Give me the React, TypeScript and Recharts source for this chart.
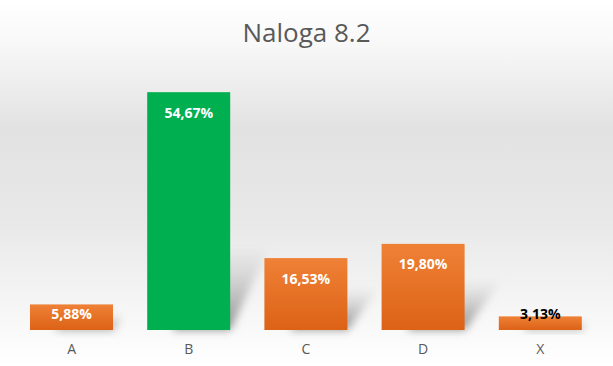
import { BarChart, Bar, XAxis, YAxis, Cell, LabelList } from "recharts";

const categories = ["A", "B", "C", "D", "X"];
const shares = [5.88, 54.67, 16.53, 19.8, 3.13];
const highlighted = ["B"];

const data = categories.map((name, i) => ({ name, share: shares[i] }));

const fmt = (v: number) => v.toFixed(2).replace(".", ",") + "%";

function ShadowBar(props: any) {
  const { x, y, width, height, fill } = props;
  const bottom = y + height;
  const dx = Math.min(height * 0.45, 40);
  const dy = Math.min(height * 0.6, 85);
  const shadow = `${x + width * 0.3},${bottom} ${x + width},${bottom} ${x + width + dx},${bottom - dy} ${x + width * 0.3 + dx},${bottom - dy}`;
  return (
    <g>
      <polygon points={shadow} fill="url(#shadowFade)" filter="url(#blur)" />
      <rect x={x} y={y} width={width} height={height} fill={fill} />
    </g>
  );
}

function BarLabel(props: any) {
  const { x, y, width, height, value } = props;
  const fits = height > 20;
  const cy = height >= 40 ? y + 20 : y + height - 17;
  return (
    <text
      x={x + width / 2}
      y={cy}
      textAnchor="middle"
      dominantBaseline="central"
      fontFamily="'Open Sans', sans-serif"
      fontWeight={700}
      fontSize={14}
      fill={fits ? "#ffffff" : "#000000"}
    >
      {fmt(value)}
    </text>
  );
}

export default function App() {
  return (
    <div
      style={{
        position: "fixed",
        left: 0,
        top: 0,
        width: 613,
        height: 366,
        background:
          "linear-gradient(to bottom, #ffffff 0%, #f8f8f8 12%, #e2e2e2 35%, #e8e8e8 60%, #f8f8f8 88%, #ffffff 100%)",
        fontFamily: "'Open Sans', sans-serif",
      }}
    >
      <div
        style={{
          position: "absolute",
          top: 13,
          width: "100%",
          textAlign: "center",
          fontSize: 26,
          color: "#595959",
          lineHeight: "38px",
        }}
      >
        Naloga 8.2
      </div>
      <BarChart
        width={613}
        height={366}
        data={data}
        margin={{ top: 69, right: 14, bottom: 6, left: 13 }}
        barCategoryGap="14.5%"
      >
        <defs>
          <linearGradient id="orangeGrad" x1="0" y1="0" x2="0" y2="1">
            <stop offset="0%" stopColor="#ef8136" />
            <stop offset="100%" stopColor="#dc6216" />
          </linearGradient>
          <linearGradient id="shadowFade" x1="0" y1="1" x2="0" y2="0">
            <stop offset="0%" stopColor="#8c8c8c" stopOpacity={1} />
            <stop offset="100%" stopColor="#b8b8b8" stopOpacity={0} />
          </linearGradient>
          <filter id="blur" x="-50%" y="-50%" width="200%" height="200%">
            <feGaussianBlur stdDeviation="4" />
          </filter>
        </defs>
        <XAxis
          dataKey="name"
          axisLine={false}
          tickLine={false}
          height={30}
          tickMargin={8}
          tick={{ fill: "#595959", fontSize: 14 }}
        />
        <YAxis hide domain={[0, 60]} />
        <Bar dataKey="share" isAnimationActive={false} shape={<ShadowBar />}>
          {data.map((d) => (
            <Cell
              key={d.name}
              fill={highlighted.includes(d.name) ? "#00b050" : "url(#orangeGrad)"}
            />
          ))}
          <LabelList dataKey="share" content={<BarLabel />} />
        </Bar>
      </BarChart>
    </div>
  );
}
